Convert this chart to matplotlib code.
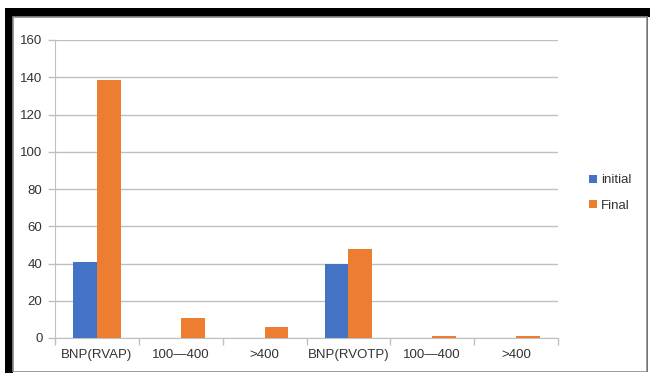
import matplotlib.pyplot as plt
import numpy as np
from matplotlib.patches import Rectangle

# BNP groups and their counts before / after
categories = ['BNP(RVAP)', '100\u2014400', '>400', 'BNP(RVOTP)', '100\u2014400', '>400']
initial = [41, 0, 0, 40, 0, 0]
final = [138.5, 11, 6, 48, 1, 1]
yticks = [0, 20, 40, 60, 80, 100, 120, 140, 160]

BLUE = '#4472C4'
ORANGE = '#ED7D31'
GRID = '#C0C0C0'
TEXT = '#333333'

plt.rcParams['font.family'] = ['Liberation Sans', 'DejaVu Sans']

W, H = 650, 373
fig = plt.figure(figsize=(W / 100, H / 100), dpi=100)

# black border along top and left, grey frame inside
fig.patches.append(Rectangle((5 / W, 0), 1 - 5 / W, 1 - 8 / H, transform=fig.transFigure,
                             facecolor='black', edgecolor='none', zorder=-3))
fig.patches.append(Rectangle((13 / W, 1 / H), 634 / W, 1 - 18 / H, transform=fig.transFigure,
                             facecolor='white', edgecolor='#8C8C8C', linewidth=1.2, zorder=-2))
fig.patches.append(Rectangle((647.5 / W, 0), 2.5 / W, 1 - 17 / H, transform=fig.transFigure,
                             facecolor='white', edgecolor='none', zorder=-2))
fig.patches.append(Rectangle((5 / W, 0), 645 / W, 1 / H, transform=fig.transFigure,
                             facecolor='white', edgecolor='none', zorder=-2))
fig.patches.append(Rectangle((5 / W, 0), 8 / W, 1 / H, transform=fig.transFigure,
                             facecolor='black', edgecolor='none', zorder=-1))

ax = fig.add_axes([55 / W, 1 - 338 / H, (558 - 55) / W, (338 - 40) / H])
ax.set_facecolor('none')

x = np.arange(len(categories))
w = 0.285
ax.bar(x - w / 2, initial, w, color=BLUE, label='initial', zorder=3)
ax.bar(x + w / 2, final, w, color=ORANGE, label='Final', zorder=3)

ax.set_xlim(-0.5, len(categories) - 0.5)
ax.set_ylim(0, 160)
ax.set_yticks(yticks)
ax.yaxis.grid(True, color=GRID, linewidth=1)
ax.set_axisbelow(True)

# category boundaries get the tick marks, names sit in between
ax.set_xticks(np.arange(-0.5, len(categories)), labels=[])
ax.set_xticks(x, labels=categories, minor=True)
ax.tick_params(axis='x', which='major', length=5, color=GRID, width=1)
ax.tick_params(axis='x', which='minor', length=0, pad=8, labelsize=9.5, labelcolor=TEXT)
ax.tick_params(axis='y', length=5, color=GRID, width=1, pad=4, labelsize=9.5, labelcolor=TEXT)

for side in ['top', 'right']:
    ax.spines[side].set_visible(False)
for side in ['left', 'bottom']:
    ax.spines[side].set_color(GRID)

leg = ax.legend(loc='center left', bbox_to_anchor=(577 / W, 1 - 193 / H),
                bbox_transform=fig.transFigure, frameon=False, fontsize=9.5,
                handlelength=0.6, handleheight=0.6, handletextpad=0.3, labelspacing=1.0)
for t in leg.get_texts():
    t.set_color(TEXT)

fig.savefig('out.png', dpi=100)
